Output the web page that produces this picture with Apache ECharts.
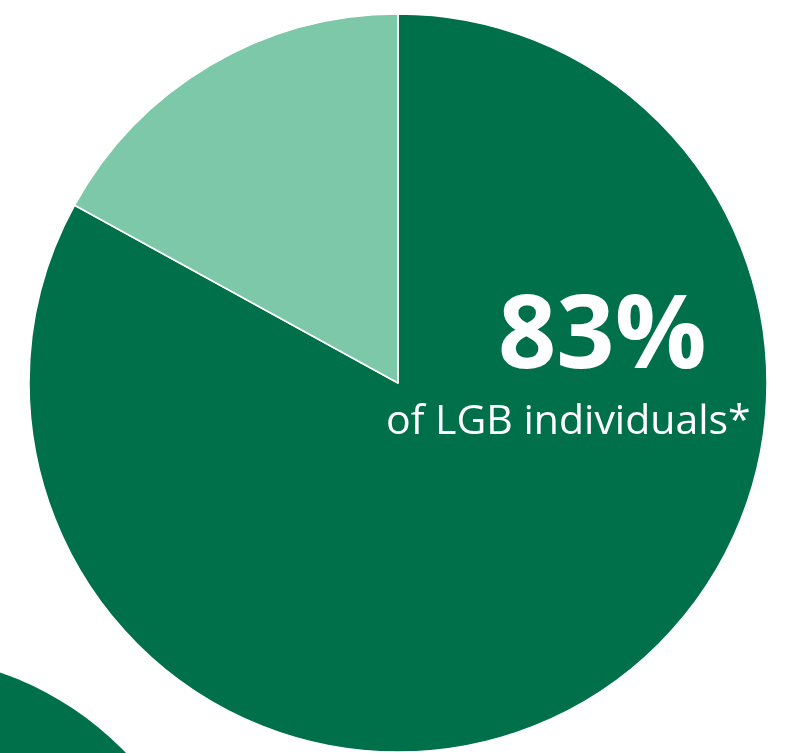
<!DOCTYPE html>
<html>
<head>
<meta charset="utf-8">
<style>
  html, body { margin: 0; padding: 0; background: #ffffff; }
  #chart { width: 789px; height: 753px; }
</style>
<script src="https://cdn.jsdelivr.net/npm/echarts@6/dist/echarts.min.js"></script>
</head>
<body>
<div id="chart"></div>
<script>
// Share of respondents (percent)
const groups = ['LGB individuals', 'Other'];
const share = [83, 17];
const sliceColors = ['#00704a', '#7dc8a8'];

// Neighbouring circle peeking in at the lower-left corner
const cornerValues = [100];

const headline = share[0] + '%';
const caption = 'of LGB individuals*';

const chart = echarts.init(document.getElementById('chart'), null, { renderer: 'canvas' });

chart.setOption({
  animation: false,
  backgroundColor: '#ffffff',
  series: [
    {
      type: 'pie',
      silent: true,
      center: [-104, 974],
      radius: [0, 319],
      label: { show: false },
      labelLine: { show: false },
      itemStyle: { color: sliceColors[0], borderWidth: 0 },
      data: cornerValues.map(v => ({ value: v }))
    },
    {
      type: 'pie',
      silent: true,
      center: [398, 383],
      radius: [0, 369],
      startAngle: 90,
      clockwise: true,
      label: { show: false },
      labelLine: { show: false },
      itemStyle: { borderColor: '#ffffff', borderWidth: 1.5 },
      data: groups.map((g, i) => ({
        name: g,
        value: share[i],
        itemStyle: { color: sliceColors[i] }
      }))
    }
  ],
  graphic: [
    {
      type: 'text',
      z: 100,
      left: 498,
      top: 288,
      style: {
        text: headline,
        fill: '#ffffff',
        font: 'bold 102px "Open Sans", "Noto Sans", sans-serif'
      }
    },
    {
      type: 'text',
      z: 100,
      left: 386,
      top: 402,
      style: {
        text: caption,
        fill: '#ffffff',
        font: '41px "Open Sans", "Noto Sans", sans-serif'
      }
    }
  ]
});
</script>
</body>
</html>
